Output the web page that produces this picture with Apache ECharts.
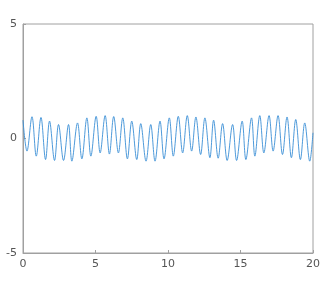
<!DOCTYPE html>
<html>
<head>
<meta charset="utf-8">
<script src="https://cdn.jsdelivr.net/npm/echarts@6/dist/echarts.min.js"></script>
<style>html,body{margin:0;padding:0;background:#fff}#c{width:333px;height:282px}</style>
</head>
<body>
<div id="c"></div>
<script>
// times of the visible peaks and troughs
var times = [0, 0.275, 0.62, 0.915, 1.24, 1.555, 1.83, 2.175, 2.45, 2.795, 3.14, 3.37, 3.76, 4.06, 4.405, 4.68,
  5.045, 5.32, 5.665, 5.96, 6.255, 6.58, 6.88, 7.2, 7.5, 7.845, 8.12, 8.485, 8.81, 9.105, 9.45, 9.725,
  10.09, 10.365, 10.71, 11.01, 11.33, 11.63, 11.925, 12.25, 12.545, 12.89, 13.145, 13.46, 13.765, 14.08,
  14.455, 14.73, 15.115, 15.37, 15.76, 15.99, 16.33, 16.61, 16.97, 17.25, 17.59, 17.895, 18.21, 18.51,
  18.81, 19.13, 19.43, 19.775, 20.0];
var values = [0.8, -0.55, 0.95, -0.77, 0.92, -0.92, 0.76, -0.96, 0.61, -0.96, 0.61, -0.99, 0.68, -0.89, 0.9, -0.77,
  0.97, -0.63, 1.0, -0.68, 0.96, -0.63, 0.9, -0.89, 0.76, -0.92, 0.65, -0.99, 0.61, -0.99, 0.76, -0.89,
  0.9, -0.77, 0.97, -0.63, 1.0, -0.55, 0.94, -0.7, 0.9, -0.84, 0.8, -0.86, 0.65, -0.96,
  0.61, -0.96, 0.76, -0.92, 0.9, -0.77, 1.0, -0.63, 1.0, -0.55, 1.0, -0.7, 0.94, -0.84,
  0.83, -0.92, 0.68, -0.99, 0.25];
var xTicks = [0, 5, 10, 15, 20];
var yTicks = [-5, 0, 5];

var data = times.map(function (t, i) { return [t, values[i]]; });
var chart = echarts.init(document.getElementById('c'), null, {renderer: 'canvas'});
function axis(extra) {
  return Object.assign({
    type: 'value',
    axisLine: {show: true, onZero: false, lineStyle: {color: '#a0a0a0', width: 1}},
    axisTick: {show: true, inside: true, length: 3, lineStyle: {color: '#a0a0a0'}},
    splitLine: {show: false},
    axisLabel: {color: '#555', fontSize: 11, fontFamily: 'DejaVu Sans', margin: 6}
  }, extra);
}
chart.setOption({
  animation: false,
  backgroundColor: '#fff',
  grid: {left: 23, right: 20, top: 24, bottom: 29, show: true, borderColor: '#a0a0a0', borderWidth: 1, containLabel: false},
  xAxis: axis({min: xTicks[0], max: xTicks[xTicks.length - 1], interval: 5}),
  yAxis: axis({min: yTicks[0], max: yTicks[yTicks.length - 1], interval: 5}),
  series: [{
    type: 'line', data: data, smooth: 0.35, showSymbol: false,
    lineStyle: {color: '#3a8fd6', width: 0.9}
  }]
});
</script>
</body>
</html>
